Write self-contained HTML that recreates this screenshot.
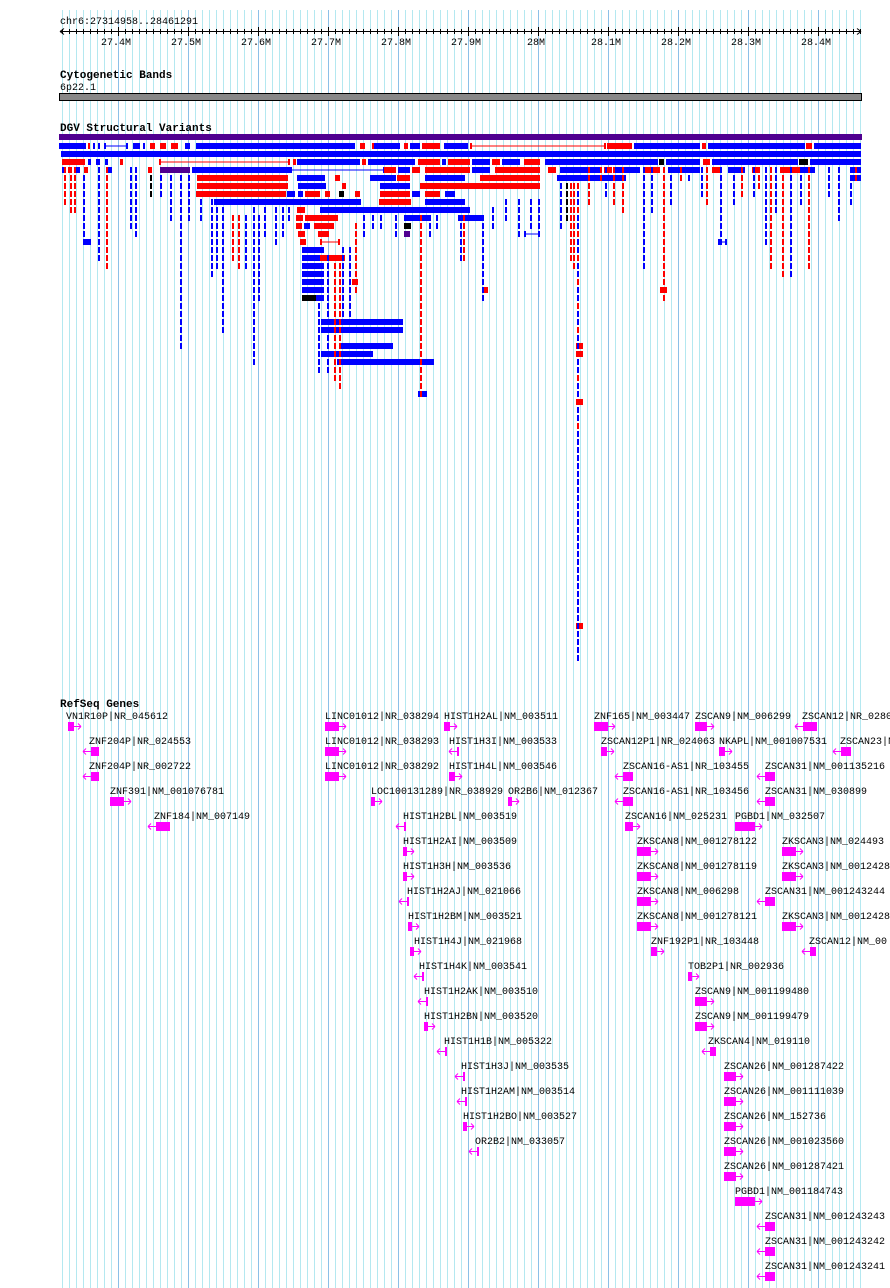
<!DOCTYPE html>
<html><head><meta charset="utf-8">
<style>
html,body{margin:0;padding:0;background:#fff;}
svg{display:block;}
text{font-family:"Liberation Mono",monospace;font-size:10px;fill:#000;}
.b{font-family:"Liberation Mono",monospace;font-weight:bold;font-size:11px;}
</style></head>
<body>
<svg id="s" width="890" height="1288" xmlns="http://www.w3.org/2000/svg">
<g id="grid"></g>
<g id="ruler">
<text x="60" y="24">chr6:27314958..28461291</text>
<line x1="60" y1="31.5" x2="861" y2="31.5" stroke="#000"/>
<path d="M60 31.5 l4 -3 M60 31.5 l4 3 M861 31.5 l-4 -3 M861 31.5 l-4 3" stroke="#000"/>
<text x="101" y="45">27.4M</text><text x="171" y="45">27.5M</text><text x="241" y="45">27.6M</text>
<text x="311" y="45">27.7M</text><text x="381" y="45">27.8M</text><text x="451" y="45">27.9M</text>
<text x="527" y="45">28M</text><text x="591" y="45">28.1M</text><text x="661" y="45">28.2M</text>
<text x="731" y="45">28.3M</text><text x="801" y="45">28.4M</text>
</g>
<text class="b" x="60" y="78">Cytogenetic Bands</text>
<text x="60" y="90">6p22.1</text>
<rect x="59.5" y="93.5" width="802" height="7" fill="#888" stroke="#000"/>
<text class="b" x="60" y="131">DGV Structural Variants</text>
<g id="dgv"></g>
<text class="b" x="60" y="707">RefSeq Genes</text>
<g id="genes"></g>
</svg>
<script>
var NS="http://www.w3.org/2000/svg";
function el(g,t,a,txt){var e=document.createElementNS(NS,t);for(var k in a)e.setAttribute(k,a[k]);if(txt)e.textContent=txt;document.getElementById(g).appendChild(e);return e;}
for(var x=118-7*8;x<=861;x+=7){var dk=((x-118)%70===0);el('grid','line',{x1:x+0.5,y1:10,x2:x+0.5,y2:1288,stroke:dk?'#8cc0e8':'#b4e8f0','stroke-width':1});}
for(var x=62;x<=861;x+=7){el('ruler','line',{x1:x+0.5,y1:29,x2:x+0.5,y2:34,stroke:'#000'});}
for(var x=118;x<=861;x+=70){el('ruler','line',{x1:x+0.5,y1:27,x2:x+0.5,y2:36,stroke:'#000'});}
var C={b:'#0000ff',r:'#ff0000',p:'#500090',k:'#000'};
function R(r){return 134+8*r+1;}
function bar(x1,x2,r,c){el('dgv','rect',{x:x1,y:R(r),width:Math.max(2,x2-x1),height:6,fill:C[c]});}
function ln(x1,x2,r,c){el('dgv','rect',{x:x1,y:R(r)+2.5,width:x2-x1,height:1,fill:C[c]});bar(x1,x1+2,r,c);bar(x2-2,x2,r,c);}
el('dgv','rect',{x:59,y:134,width:803,height:6,fill:'#500090'});
bar(59,86,1,'b');bar(88,90,1,'r');bar(93,95,1,'b');bar(98,100,1,'b');ln(104,128,1,'b');bar(133,140,1,'b');bar(143,145,1,'b');bar(150,155,1,'r');bar(160,166,1,'r');bar(171,178,1,'r');bar(185,190,1,'b');
bar(196,355,1,'b');bar(360,365,1,'r');bar(372,378,1,'r');bar(374,400,1,'b');bar(404,408,1,'r');bar(410,420,1,'b');bar(422,440,1,'r');bar(444,468,1,'b');ln(470,606,1,'r');bar(607,632,1,'r');bar(634,700,1,'b');bar(702,706,1,'r');bar(708,805,1,'b');bar(806,812,1,'r');bar(814,861,1,'b');
bar(61,861,2,'b');
bar(62,85,3,'r');bar(88,91,3,'b');bar(96,99,3,'b');bar(105,108,3,'b');bar(120,123,3,'r');ln(159,290,3,'r');bar(293,296,3,'r');bar(297,360,3,'b');bar(362,366,3,'r');bar(368,415,3,'b');bar(418,440,3,'r');bar(442,446,3,'b');bar(448,470,3,'r');bar(472,490,3,'b');bar(492,500,3,'r');bar(502,520,3,'b');bar(524,540,3,'r');bar(545,658,3,'b');bar(659,664,3,'k');bar(666,700,3,'b');bar(703,710,3,'r');bar(712,798,3,'b');bar(799,808,3,'k');bar(810,861,3,'b');
bar(62,66,4,'b');bar(68,72,4,'r');bar(76,80,4,'b');bar(84,88,4,'r');bar(108,112,4,'b');bar(148,152,4,'r');bar(160,190,4,'p');bar(192,290,4,'b');ln(290,385,4,'b');bar(384,396,4,'r');bar(398,410,4,'b');bar(412,420,4,'r');bar(425,470,4,'r');bar(472,490,4,'b');bar(495,540,4,'r');bar(548,556,4,'r');bar(560,600,4,'b');bar(604,612,4,'r');bar(615,640,4,'b');bar(645,660,4,'r');bar(668,700,4,'b');bar(712,720,4,'r');bar(728,745,4,'b');bar(752,760,4,'r');bar(780,800,4,'r');bar(802,815,4,'b');bar(852,861,4,'b');
bar(197,288,5,'r');bar(297,325,5,'b');bar(335,340,5,'r');bar(370,396,5,'b');bar(397,410,5,'r');bar(425,465,5,'b');bar(480,540,5,'r');bar(557,626,5,'b');bar(852,861,5,'b');
bar(197,288,6,'r');bar(298,326,6,'b');bar(342,346,6,'r');bar(380,410,6,'b');bar(420,540,6,'r');
bar(196,286,7,'r');bar(287,295,7,'b');bar(298,303,7,'b');bar(305,320,7,'r');bar(325,330,7,'r');bar(339,344,7,'k');bar(355,360,7,'r');bar(380,410,7,'r');bar(412,420,7,'b');bar(425,440,7,'r');bar(445,455,7,'b');
bar(214,361,8,'b');bar(379,411,8,'r');bar(425,465,8,'b');
bar(320,470,9,'b');bar(297,305,9,'r');
bar(296,303,10,'r');bar(305,323,10,'r');bar(323,338,10,'r');bar(404,430,10,'b');bar(458,482,10,'b');
bar(296,302,11,'r');bar(304,310,11,'b');bar(314,334,11,'r');bar(404,411,11,'k');
bar(298,305,12,'r');bar(318,329,12,'r');bar(404,410,12,'p');
bar(300,306,13,'r');ln(320,340,13,'r');bar(83,91,13,'b');ln(524,540,12,'b');ln(718,727,13,'b');
for(var r=14;r<=20;r++){bar(302,324,r,'b');}
bar(320,345,15,'r');bar(302,316,20,'k');bar(352,358,18,'r');bar(482,488,19,'r');bar(660,667,19,'r');
bar(321,403,23,'b');bar(321,403,24,'b');bar(340,393,26,'b');bar(321,373,27,'b');bar(337,434,28,'b');bar(418,427,32,'b');
bar(576,583,26,'r');bar(576,583,27,'r');bar(576,583,33,'r');bar(576,583,61,'r');
var cols=[[64,3,8,'r'],[70,3,9,'r'],[74,3,9,'r'],[83,5,12,'b'],[98,3,15,'b'],[106,4,16,'r'],[130,4,11,'b'],[135,4,12,'b'],[150,5,7,'k'],[160,5,7,'b'],[170,5,10,'b'],[180,5,26,'b'],[188,5,10,'b'],[200,8,10,'b'],[211,8,17,'b'],[216,9,16,'b'],[222,9,24,'b'],[232,10,15,'r'],[238,10,16,'r'],[245,10,16,'b'],[253,9,28,'b'],[258,10,20,'b'],[264,9,12,'b'],[275,9,13,'b'],[282,9,12,'b'],[288,9,10,'b'],[318,14,29,'b'],[327,15,29,'b'],[334,16,30,'r'],[339,15,31,'r'],[342,14,23,'b'],[349,14,22,'b'],[355,11,19,'r'],[363,9,12,'b'],[372,9,11,'b'],[380,9,11,'b'],[395,9,12,'b'],[420,10,32,'r'],[429,9,12,'b'],[436,9,11,'b'],[460,9,15,'b'],[463,10,15,'r'],[482,10,20,'b'],[492,9,11,'b'],[505,8,10,'b'],[518,8,12,'b'],[530,8,11,'b'],[538,8,12,'b'],[560,6,11,'b'],[566,6,10,'k'],[570,6,15,'r'],[573,6,16,'r'],[577,6,65,'b'],[588,4,8,'r'],[600,4,5,'r'],[605,4,7,'b'],[613,4,8,'r'],[622,4,9,'r'],[643,4,16,'b'],[651,4,9,'b'],[663,4,20,'r'],[670,4,8,'b'],[680,4,5,'r'],[688,4,5,'b'],[701,4,7,'b'],[706,4,8,'r'],[720,4,13,'b'],[733,4,8,'b'],[741,4,7,'r'],[753,4,7,'b'],[758,4,6,'r'],[765,4,13,'b'],[770,4,16,'r'],[775,4,9,'b'],[782,4,17,'r'],[790,4,17,'b'],[800,4,8,'b'],[808,4,16,'r'],[828,4,7,'b'],[838,4,10,'b'],[850,4,8,'b'],[855,4,5,'r']];
cols.forEach(function(c){for(var r=c[1];r<=c[2];r++){var col=c[3];if(c[0]==577&&r<38&&r%3==0)col='r';bar(c[0],c[0]+2,r,col);}});
var G=[
[715,[[66,'VN1R10P|NR_045612',68,1,6],[325,'LINC01012|NR_038294',325,1,14],[444,'HIST1H2AL|NM_003511',444,1,6],[594,'ZNF165|NM_003447',594,1,14],[695,'ZSCAN9|NM_006299',695,1,12],[802,'ZSCAN12|NR_0280',795,0,22]]],
[740,[[89,'ZNF204P|NR_024553',83,0,16],[325,'LINC01012|NR_038293',325,1,14],[449,'HIST1H3I|NM_003533',449,0,6],[601,'ZSCAN12P1|NR_024063',601,1,6],[719,'NKAPL|NM_001007531',719,1,6],[840,'ZSCAN23|N',833,0,18]]],
[765,[[89,'ZNF204P|NR_002722',83,0,16],[325,'LINC01012|NR_038292',325,1,14],[449,'HIST1H4L|NM_003546',449,1,6],[623,'ZSCAN16-AS1|NR_103455',615,0,18],[765,'ZSCAN31|NM_001135216',757,0,18]]],
[790,[[110,'ZNF391|NM_001076781',110,1,14],[371,'LOC100131289|NR_038929',371,1,4],[508,'OR2B6|NM_012367',508,1,4],[623,'ZSCAN16-AS1|NR_103456',615,0,18],[765,'ZSCAN31|NM_030899',757,0,18]]],
[815,[[154,'ZNF184|NM_007149',148,0,22],[403,'HIST1H2BL|NM_003519',396,0,6],[625,'ZSCAN16|NM_025231',625,1,8],[735,'PGBD1|NM_032507',735,1,20]]],
[840,[[403,'HIST1H2AI|NM_003509',403,1,4],[637,'ZKSCAN8|NM_001278122',637,1,14],[782,'ZKSCAN3|NM_024493',782,1,14]]],
[865,[[403,'HIST1H3H|NM_003536',403,1,4],[637,'ZKSCAN8|NM_001278119',637,1,14],[782,'ZKSCAN3|NM_0012428',782,1,14]]],
[890,[[407,'HIST1H2AJ|NM_021066',399,0,4],[637,'ZKSCAN8|NM_006298',637,1,14],[765,'ZSCAN31|NM_001243244',757,0,18]]],
[915,[[408,'HIST1H2BM|NM_003521',408,1,4],[637,'ZKSCAN8|NM_001278121',637,1,14],[782,'ZKSCAN3|NM_0012428',782,1,14]]],
[940,[[414,'HIST1H4J|NM_021968',410,1,4],[651,'ZNF192P1|NR_103448',651,1,6],[809,'ZSCAN12|NM_00',802,0,14]]],
[965,[[419,'HIST1H4K|NM_003541',414,0,4],[688,'TOB2P1|NR_002936',688,1,4]]],
[990,[[424,'HIST1H2AK|NM_003510',418,0,4],[695,'ZSCAN9|NM_001199480',695,1,12]]],
[1015,[[424,'HIST1H2BN|NM_003520',424,1,4],[695,'ZSCAN9|NM_001199479',695,1,12]]],
[1040,[[444,'HIST1H1B|NM_005322',437,0,4],[708,'ZKSCAN4|NM_019110',702,0,14]]],
[1065,[[461,'HIST1H3J|NM_003535',455,0,4],[724,'ZSCAN26|NM_001287422',724,1,12]]],
[1090,[[461,'HIST1H2AM|NM_003514',457,0,4],[724,'ZSCAN26|NM_001111039',724,1,12]]],
[1115,[[463,'HIST1H2BO|NM_003527',463,1,4],[724,'ZSCAN26|NM_152736',724,1,12]]],
[1140,[[475,'OR2B2|NM_033057',469,0,4],[724,'ZSCAN26|NM_001023560',724,1,12]]],
[1165,[[724,'ZSCAN26|NM_001287421',724,1,12]]],
[1190,[[735,'PGBD1|NM_001184743',735,1,20]]],
[1215,[[765,'ZSCAN31|NM_001243243',757,0,18]]],
[1240,[[765,'ZSCAN31|NM_001243242',757,0,18]]],
[1265,[[765,'ZSCAN31|NM_001243241',757,0,18]]]];
G.forEach(function(row){var y=row[0];row[1].forEach(function(g){
 el('genes','text',{x:g[0],y:y+4},g[1]);
 var gx=g[2],dir=g[3],w=g[4],gy=y+7,m='#ff00ff';
 if(dir){ el('genes','rect',{x:gx,y:gy,width:w,height:9,fill:m});
   var ax=gx+w; el('genes','path',{d:'M'+ax+' '+(gy+4.5)+' h7 M'+(ax+7)+' '+(gy+4.5)+' l-3 -3 M'+(ax+7)+' '+(gy+4.5)+' l-3 3',stroke:m,fill:'none'});
 } else { var bx=gx+8; el('genes','rect',{x:bx,y:gy,width:w-8>2?w-8:2,height:9,fill:m});
   el('genes','path',{d:'M'+gx+' '+(gy+4.5)+' h8 M'+gx+' '+(gy+4.5)+' l3 -3 M'+gx+' '+(gy+4.5)+' l3 3',stroke:m,fill:'none'});}
});});
</script>
</body></html>
